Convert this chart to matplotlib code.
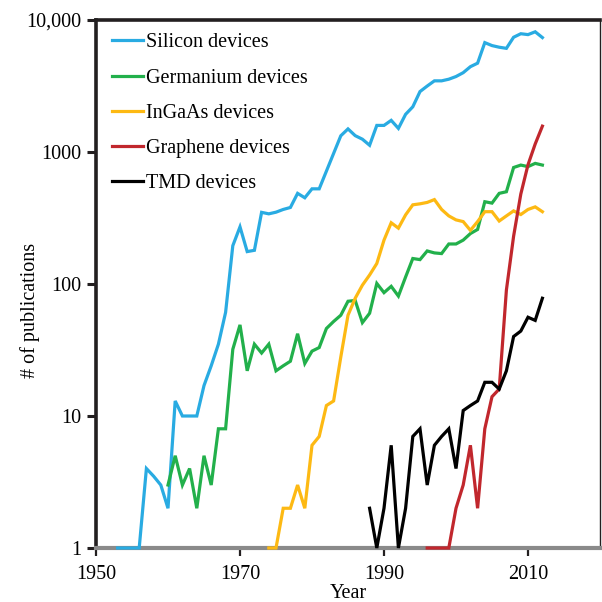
import numpy as np
import matplotlib
matplotlib.use("Agg")
import matplotlib.pyplot as plt

plt.rcParams['font.family'] = ['Liberation Serif', 'DejaVu Serif']

SILICON_START = 1953
SILICON = [1, 1, 1, 1, 4, 3.5, 3, 2, 13, 10, 10, 10, 17, 24, 35, 61, 195,
           271, 176, 180, 349, 340, 350, 367, 380, 486, 450, 526, 526, 716, 975,
           1327, 1496, 1330, 1250, 1125, 1590, 1590, 1737, 1510, 1930, 2200,
           2870, 3160, 3460, 3460, 3560, 3730, 3990, 4430, 4710, 6740, 6400,
           6220, 6100, 7400, 7870, 7750, 8140, 7360]

GERMANIUM_START = 1960
GERMANIUM = [3, 5, 3, 4, 2, 5, 3, 8, 8, 32,
             49, 22, 35, 30, 35, 22, 24, 26, 42, 25,
             31, 33, 46, 52, 58, 74, 75, 51, 60, 101,
             86, 96, 81, 113, 156, 153, 178, 172, 170, 201,
             201, 215, 241, 259, 420, 410, 486, 500, 763, 796,
             775, 820, 796]

INGAAS_START = 1974
INGAAS = [1, 1, 2, 2, 3, 2,
          6, 7, 12, 13, 28, 58, 78, 98, 117, 143,
          215, 291, 265, 334, 398, 405, 415, 436, 367, 328,
          306, 297, 255, 297, 353, 353, 300, 328, 358, 336,
          367, 384, 353]

GRAPHENE_START = 1996
GRAPHENE = [1, 1, 1, 1, 2, 3, 6, 2, 8, 14, 16, 90, 230, 480, 800, 1150, 1570]

TMD_START = 1988
TMD = [2, 1, 2, 6, 1, 2, 7, 8, 3, 6, 7, 8, 4, 11, 12, 13, 18, 18, 16, 22,
       40, 44, 56, 53, 78]

series = [
    ("Silicon devices", SILICON_START, SILICON, '#29abe2'),
    ("Germanium devices", GERMANIUM_START, GERMANIUM, '#22b04b'),
    ("InGaAs devices", INGAAS_START, INGAAS, '#fdb913'),
    ("Graphene devices", GRAPHENE_START, GRAPHENE, '#c1272d'),
    ("TMD devices", TMD_START, TMD, '#000000'),
]

fig = plt.figure(figsize=(6.02, 6.02), dpi=100)
ax = fig.add_axes([96 / 602, 1 - 548 / 602, 504 / 602, 528 / 602])

for label, start, vals, color in series:
    years = np.arange(start, start + len(vals))
    ax.plot(years, vals, color=color, lw=2.3, label=label,
            solid_joinstyle='miter', clip_on=False, zorder=3)

ax.set_yscale('log')
ax.set_xlim(1950, 2020)
ax.set_ylim(1, 10000)
ax.set_xticks([1950, 1970, 1990, 2010])
ax.set_yticks([1, 10, 100, 1000, 10000])
ax.set_yticklabels(['1', '10', '100', '1000', '10,000'])
ax.yaxis.set_minor_locator(matplotlib.ticker.NullLocator())

dark = '#231f20'
ax.spines['left'].set_linewidth(2.6)
ax.spines['left'].set_color(dark)
ax.spines['top'].set_linewidth(2.6)
ax.spines['top'].set_color(dark)
ax.spines['right'].set_linewidth(1.0)
ax.spines['right'].set_color(dark)
ax.spines['bottom'].set_linewidth(3.0)
ax.spines['bottom'].set_color('#8a8a8a')
ax.axhline(1, color=dark, lw=1.0, clip_on=False, zorder=2)

ax.tick_params(axis='y', direction='out', length=6.5, width=2.2, color=dark,
               labelsize=14.5, pad=4)
ax.tick_params(axis='x', direction='out', length=6, width=1.6, color=dark,
               labelsize=14.5, pad=6)

ax.set_xlabel("Year", fontsize=14.5, labelpad=0)
ax.set_ylabel("# of publications", fontsize=14.5)
ax.yaxis.set_label_coords(-0.112, 0.45)

ax.legend(loc='upper left', bbox_to_anchor=(-0.008, 1.013), frameon=False,
          fontsize=14.5, handlelength=1.55, handletextpad=0.15,
          labelspacing=0.8, borderaxespad=0.6)

fig.savefig("out.png", dpi=100)
